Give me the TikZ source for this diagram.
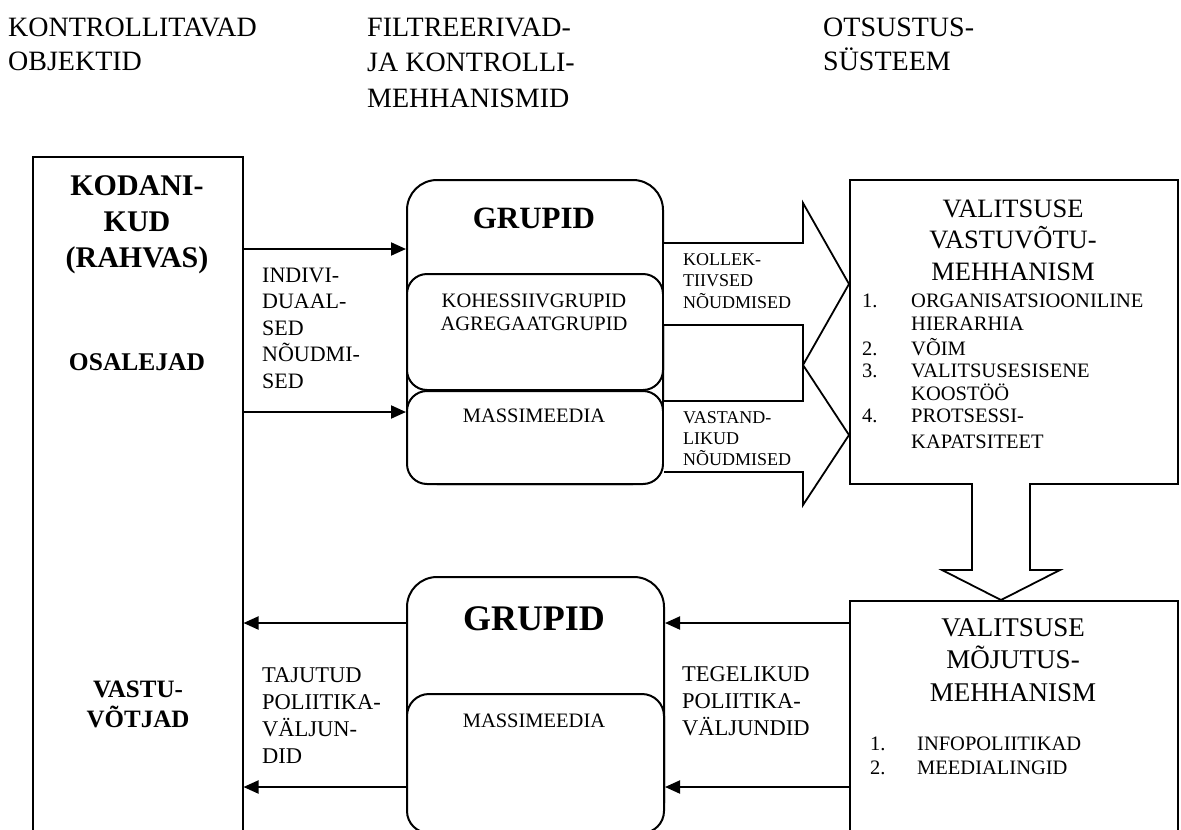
\documentclass[tikz,border=0pt]{standalone}
\usepackage{fontspec}
\setmainfont{Liberation Serif}
\usetikzlibrary{arrows.meta}
\newcommand\myfs[2]{\fontsize{#1}{#2}\selectfont}
\tikzset{
  lt/.style={inner sep=0pt, anchor=base west, align=left},
  ct/.style={inner sep=0pt, anchor=base, align=center},
  sqbox/.style={draw, line width=1.5pt, rectangle, inner sep=0pt, anchor=north west},
  rbox/.style={draw, line width=2pt, rectangle, inner sep=0pt, anchor=north west, fill=white},
  flow/.style={line width=2pt, -{Triangle[length=15pt,width=13pt]}},
  blockarrow/.style={line width=1.8pt, fill=white, line join=miter},
}
\begin{document}
\begin{tikzpicture}[x=1pt,y=-1pt]
\useasboundingbox (0,0) rectangle (1181,830);
\clip (0,0) rectangle (1181,830);
\fill[white] (0,0) rectangle (1181,830);

% headers (base anchor = baseline of last line)
\node[lt, font=\myfs{28}{34}] (h1) at (8,70) {KONTROLLITAVAD\\OBJEKTID};
\node[lt, font=\myfs{28}{35.5}] (h2) at (367,107) {FILTREERIVAD-\\JA KONTROLLI-\\MEHHANISMID};
\node[lt, font=\myfs{28}{34}] (h3) at (823,70) {OTSUSTUS-\\SÜSTEEM};

% left box
\node[sqbox, minimum width=210pt, minimum height=720pt] (kod) at (32,156) {};
\node[ct, font=\bfseries\myfs{30}{36}] (kodt) at (137,267) {KODANI-\\KUD\\(RAHVAS)};
\node[ct, font=\bfseries\myfs{25.5}{30}] (osa) at (137,370) {OSALEJAD};
\node[ct, font=\bfseries\myfs{25}{30}] (vas) at (138,727) {VASTU-\\VÕTJAD};

% upper group boxes
\node[rbox, rounded corners=30pt, minimum width=256pt, minimum height=304pt] (g1) at (406,179) {};
\node[rbox, rounded corners=20pt, minimum width=256pt, minimum height=116pt] (koh) at (406,273) {};
\node[rbox, rounded corners=20pt, minimum width=256pt, minimum height=93pt] (mm1) at (406,390) {};
\node[ct, font=\bfseries\myfs{31}{36}] (g1t) at (534,228) {GRUPID};
\node[ct, font=\myfs{20.5}{23}] (koht) at (534,330) {KOHESSIIVGRUPID\\AGREGAATGRUPID};
\node[ct, font=\myfs{20.5}{23}] (mm1t) at (534,422) {MASSIMEEDIA};

% lower group boxes
\node[rbox, rounded corners=30pt, minimum width=257pt, minimum height=256pt] (g2) at (406,576) {};
\node[rbox, rounded corners=22pt, minimum width=257pt, minimum height=139pt] (mm2) at (406,693) {};
\node[ct, font=\bfseries\myfs{36}{40}] (g2t) at (534,630) {GRUPID};
\node[ct, font=\myfs{20.5}{23}] (mm2t) at (534,727) {MASSIMEEDIA};

% right boxes
\node[sqbox, minimum width=328pt, minimum height=304pt] (vv) at (849,179) {};
\node[sqbox, minimum width=328pt, minimum height=260pt] (mj) at (849,600) {};
\node[ct, font=\myfs{26.5}{31.5}] (vvt) at (1013,280) {VALITSUSE\\VASTUVÕTU-\\MEHHANISM};
\node[lt, font=\myfs{20.5}{23.5}] (n1) at (862,307) {1.};
\node[lt, font=\myfs{20.5}{23.5}] (i1) at (911,330.5) {ORGANISATSIOONILINE\\HIERARHIA};
\node[lt, font=\myfs{20.5}{23.5}] (n2) at (862,355) {2.};
\node[lt, font=\myfs{20.5}{23.5}] (i2) at (911,355) {VÕIM};
\node[lt, font=\myfs{20.5}{23.5}] (n3) at (862,377) {3.};
\node[lt, font=\myfs{20.5}{23.5}] (i3) at (911,400.5) {VALITSUSESISENE\\KOOSTÖÖ};
\node[lt, font=\myfs{20.5}{23.5}] (n4) at (862,422) {4.};
\node[lt, font=\myfs{20.5}{26}] (i4) at (911,448) {PROTSESSI-\\KAPATSITEET};

\node[ct, font=\myfs{27}{32.5}] (mjt) at (1013,701) {VALITSUSE\\MÕJUTUS-\\MEHHANISM};
\node[lt, font=\myfs{20.5}{24}] (m1) at (870,774) {1.\\2.};
\node[lt, font=\myfs{20.5}{24}] (mi) at (917,774) {INFOPOLIITIKAD\\MEEDIALINGID};

% labels
\node[lt, font=\myfs{22}{26.5}] (ind) at (262,388) {INDIVI-\\DUAAL-\\SED\\NÕUDMI-\\SED};
\node[lt, font=\myfs{22.5}{27}] (taj) at (262,763) {TAJUTUD\\POLIITIKA-\\VÄLJUN-\\DID};
\node[lt, font=\myfs{22.5}{27}] (teg) at (682,735) {TEGELIKUD\\POLIITIKA-\\VÄLJUNDID};

% block arrows
\draw[blockarrow] (g1.east |- 0,243) -- (803,243) -- (803,203) -- (849,284) -- (803,365) -- (803,325) -- (g1.east |- 0,325);
\draw[blockarrow] (g1.east |- 0,401) -- (803,401) -- (803,365) -- (849,435) -- (803,505) -- (803,472) -- (g1.east |- 0,472);
\draw[blockarrow] (972,483) -- (972,570) -- (942,570) -- (1001,600) -- (1060,570) -- (1030,570) -- (1030,483);
\node[lt, font=\myfs{18}{21.5}] (kol) at (683,308) {KOLLEK-\\TIIVSED\\NÕUDMISED};
\node[lt, font=\myfs{18}{21}] (vst) at (683,465) {VASTAND-\\LIKUD\\NÕUDMISED};

% connectors
\coordinate (y1) at (0,249);
\coordinate (y2) at (0,412);
\coordinate (y3) at (0,623);
\coordinate (y4) at (0,787);
\draw[flow] (kod.east |- y1) -- (g1.west |- y1);
\draw[flow] (kod.east |- y2) -- (g1.west |- y2);
\draw[flow] (mj.west |- y3) -- (g2.east |- y3);
\draw[flow] (mj.west |- y4) -- (g2.east |- y4);
\draw[flow] (g2.west |- y3) -- (kod.east |- y3);
\draw[flow] (g2.west |- y4) -- (kod.east |- y4);
\end{tikzpicture}
\end{document}
